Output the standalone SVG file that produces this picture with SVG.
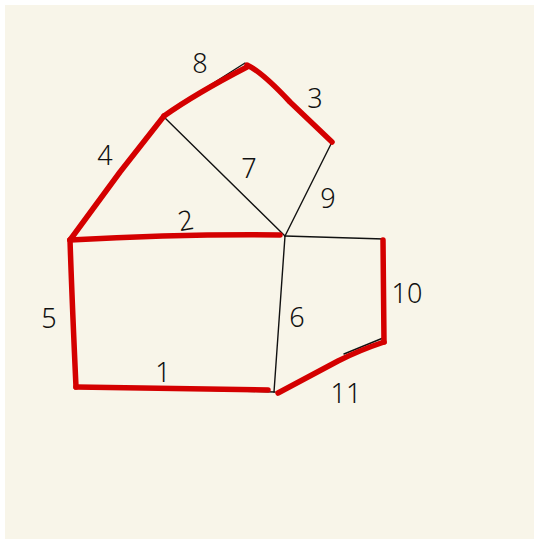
<svg xmlns="http://www.w3.org/2000/svg" width="534" height="539" viewBox="0 0 534 539">
<style>
.bg{fill:#f8f5e9}
.thin{stroke:#111;stroke-width:1.4;fill:none;stroke-linecap:round}
.red{stroke:#d40000;stroke-width:5.5;fill:none;stroke-linecap:round;stroke-linejoin:round}
.lbl{font-family:"Noto Sans","DejaVu Sans",sans-serif;font-weight:300;font-size:27px;fill:#111;text-anchor:middle}
</style>
<rect x="0" y="0" width="534" height="539" fill="#ffffff"/>
<rect class="bg" x="5" y="5" width="529" height="534"/>
<g id="connectors">
  <g id="thin-edges">
    <line class="thin" x1="164" y1="117" x2="285" y2="236"/>
    <line class="thin" x1="332" y1="142" x2="285" y2="236"/>
    <line class="thin" x1="285" y1="236" x2="384" y2="239"/>
    <line class="thin" x1="285" y1="236" x2="274" y2="392"/>
    <line class="thin" x1="204" y1="89" x2="245" y2="63"/>
    <line class="thin" x1="130" y1="388" x2="275" y2="392"/>
    <line class="thin" x1="344" y1="354" x2="383" y2="338"/>
  </g>
  <g id="red-edges">
    <path id="e4" class="red" d="M70 240 L120 172 L164 116"/>
    <path id="e8" class="red" d="M164 116 Q195 94 247 67"/>
    <path id="e3" class="red" d="M247 65 Q262 72 290 102 L332 142"/>
    <path id="e2" class="red" d="M70 240 Q180 234 280 235"/>
    <path id="e5" class="red" d="M70 240 Q72 300 76 387"/>
    <path id="e1" class="red" d="M76 387 Q180 389 268 390"/>
    <path id="e11" class="red" d="M278 393 L338 361 Q360 350 384 342"/>
    <path id="e10" class="red" d="M383 240 L384 342"/>
  </g>
</g>
<g id="labels">
  <text id="l8" class="lbl" x="200" y="73">8</text>
  <text id="l3" class="lbl" x="315" y="108">3</text>
  <text id="l4" class="lbl" x="105" y="165">4</text>
  <text id="l7" class="lbl" x="249" y="178">7</text>
  <text id="l2" class="lbl" x="186" y="230" transform="rotate(-10 186 222)">2</text>
  <text id="l9" class="lbl" x="328" y="208">9</text>
  <text id="l10" class="lbl" x="407" y="303">10</text>
  <text id="l5" class="lbl" x="49" y="328">5</text>
  <text id="l6" class="lbl" x="297" y="327">6</text>
  <text id="l1" class="lbl" x="163" y="382">1</text>
  <text id="l11" class="lbl" x="346" y="403">11</text>
</g>
</svg>
